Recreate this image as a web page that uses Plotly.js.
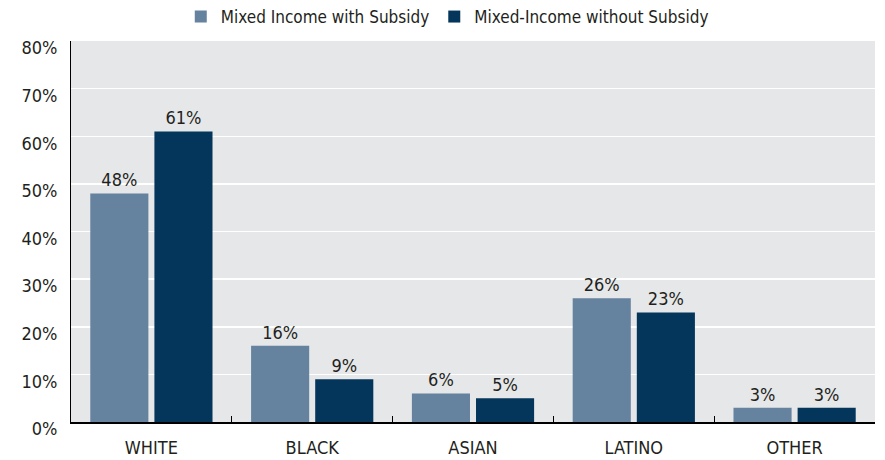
<!DOCTYPE html>
<html><head><meta charset="utf-8">
<script src="https://cdn.plot.ly/plotly-3.0.1.min.js"></script>
<style>body{margin:0;background:#fff}#chart{width:885px;height:460px}</style>
</head><body><div id="chart"></div>
<script>
const categories = ["WHITE", "BLACK", "ASIAN", "LATINO", "OTHER"];
const withSubsidy = [48, 16, 6, 26, 3];
const withoutSubsidy = [61, 9, 5, 23, 3];
const seriesNames = ["Mixed Income with Subsidy", "Mixed-Income without Subsidy"];
const yTicks = [0, 10, 20, 30, 40, 50, 60, 70, 80];

const FONT = '"Liberation Sans Narrow", "DejaVu Sans Condensed", "Roboto Condensed", sans-serif';
const TXT = '#231f20';
const mk = (name, vals, color) => ({
  type: 'bar', name: name, x: categories, y: vals,
  marker: {color: color},
  text: vals.map(v => v + '%'), textposition: 'outside',
  textfont: {family: FONT, size: 18, color: TXT},
  cliponaxis: false, hoverinfo: 'skip'
});
const data = [mk(seriesNames[0], withSubsidy, '#65829f'), mk(seriesNames[1], withoutSubsidy, '#03365a')];
const layout = {
  width: 885, height: 460,
  margin: {l: 71, r: 10, t: 41, b: 38, autoexpand: false},
  paper_bgcolor: '#ffffff', plot_bgcolor: '#e6e7e9',
  font: {family: FONT, size: 18, color: TXT},
  barmode: 'group', bargap: 0.2025, bargroupgap: 0.094,
  showlegend: true,
  legend: {orientation: 'h', x: 0.468, xanchor: 'center', y: 1.063, yanchor: 'middle',
           font: {family: FONT, size: 17, color: TXT}, traceorder: 'normal'},
  xaxis: {type: 'category', showline: true, linecolor: '#000', linewidth: 2,
          ticks: 'inside', tickson: 'boundaries', ticklen: 6, tickcolor: '#000', tickwidth: 1,
          showgrid: false, ticklabelstandoff: 8, tickfont: {family: FONT, size: 18, color: TXT}},
  yaxis: {range: [0, 80], tickvals: yTicks, ticktext: yTicks.map(v => v + '%'),
          showline: true, linecolor: '#000', linewidth: 1, gridcolor: '#ffffff', gridwidth: 1.5,
          ticks: '', zeroline: false, ticklabelstandoff: 9, ticklabelshift: 7,
          tickfont: {family: FONT, size: 18, color: TXT}}
};
Plotly.newPlot('chart', data, layout, {displayModeBar: false, staticPlot: true});
</script></body></html>
